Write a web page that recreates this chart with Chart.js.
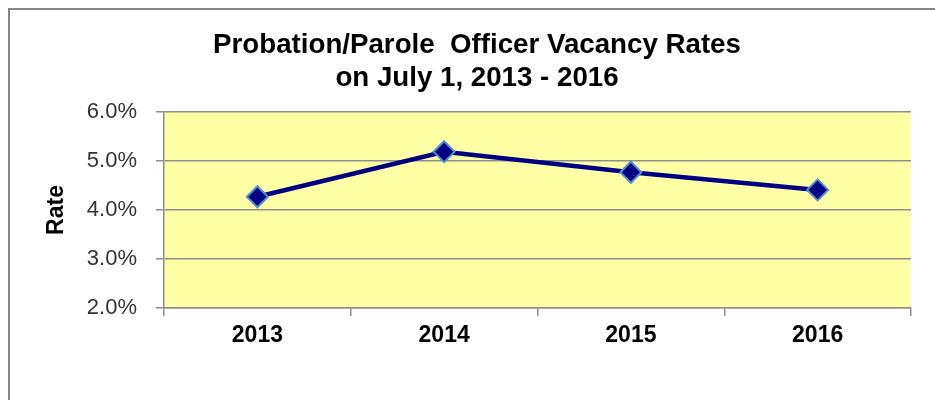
<!DOCTYPE html>
<html lang="en">
<head>
    <meta charset="UTF-8">
    <title>Probation/Parole Officer Vacancy Rates</title>
    <script src="https://cdn.jsdelivr.net/npm/chart.js"></script>
    <style>
        html, body {
            margin: 0;
            padding: 0;
            background: #ffffff;
            overflow: hidden;
        }

        .frame {
            position: absolute;
            left: 8px;
            top: 8px;
            width: 1000px;
            height: 500px;
            border: 2px solid #868686;
        }

        .chart-box {
            position: absolute;
            left: 0;
            top: 0;
            width: 935px;
            height: 400px;
        }
    </style>
</head>
<body>
    <div class="frame"></div>
    <div class="chart-box">
        <canvas id="lineChart"></canvas>
    </div>

    <script>
        // Datos del gráfico
        const years = ['2013', '2014', '2015', '2016'];
        const vacancyRates = [4.27, 5.19, 4.77, 4.41];
        const rateTicks = [2, 3, 4, 5, 6];

        // Fondo amarillo del área de trazado
        const plotBackground = {
            id: 'plotBackground',
            beforeDraw(chart) {
                const { ctx, chartArea } = chart;
                ctx.save();
                ctx.fillStyle = '#ffffa6';
                ctx.fillRect(chartArea.left, chartArea.top,
                             chartArea.right - chartArea.left,
                             chartArea.bottom - chartArea.top);
                ctx.restore();
            }
        };

        new Chart(document.getElementById('lineChart'), {
            type: 'line',
            data: {
                labels: years,
                datasets: [{
                    label: 'Rate',
                    data: vacancyRates,
                    borderColor: '#000080',
                    borderWidth: 4.5,
                    pointStyle: 'rectRot',
                    pointRadius: 10.5,
                    pointBackgroundColor: '#000080',
                    pointBorderColor: '#4f8fd0',
                    pointBorderWidth: 2,
                    tension: 0
                }]
            },
            options: {
                responsive: true,
                maintainAspectRatio: false,
                animation: false,
                layout: {
                    padding: { left: 43, right: 24, top: 0, bottom: 0 }
                },
                plugins: {
                    legend: { display: false },
                    tooltip: { enabled: false },
                    title: {
                        display: true,
                        text: ['Probation/Parole  Officer Vacancy Rates', 'on July 1, 2013 - 2016'],
                        color: '#000000',
                        font: { family: "'Liberation Sans', Arial, sans-serif", size: 27.7, weight: 'bold', lineHeight: 33 / 27.7 },
                        padding: { top: 28.5, bottom: 17.5 }
                    }
                },
                scales: {
                    x: {
                        offset: true,
                        afterFit(scale) { scale.height = 92; },
                        grid: {
                            offset: true,
                            drawOnChartArea: false,
                            drawTicks: true,
                            tickLength: 8,
                            color: '#8f8f8f',
                            lineWidth: 1.5
                        },
                        border: { color: '#8f8f8f', width: 1.5 },
                        ticks: {
                            color: '#000000',
                            padding: 6,
                            font: { family: "'Liberation Sans', Arial, sans-serif", size: 23, weight: 'bold' }
                        }
                    },
                    y: {
                        min: rateTicks[0],
                        max: rateTicks[rateTicks.length - 1],
                        afterFit(scale) { scale.width = 121; },
                        afterBuildTicks(scale) {
                            scale.ticks = rateTicks.map(v => ({ value: v }));
                        },
                        grid: {
                            color: '#8f8f8f',
                            lineWidth: 1.5,
                            tickLength: 8
                        },
                        border: { color: '#8f8f8f', width: 1.5 },
                        ticks: {
                            color: '#333333',
                            padding: 19,
                            font: { family: "'Liberation Sans', Arial, sans-serif", size: 22 },
                            callback: v => v.toFixed(1) + '%'
                        },
                        title: {
                            display: true,
                            text: 'Rate',
                            color: '#000000',
                            padding: { top: 0, bottom: 0 },
                            font: { family: "'Liberation Sans', Arial, sans-serif", size: 23, weight: 'bold' }
                        }
                    }
                }
            },
            plugins: [plotBackground]
        });
    </script>
</body>
</html>
